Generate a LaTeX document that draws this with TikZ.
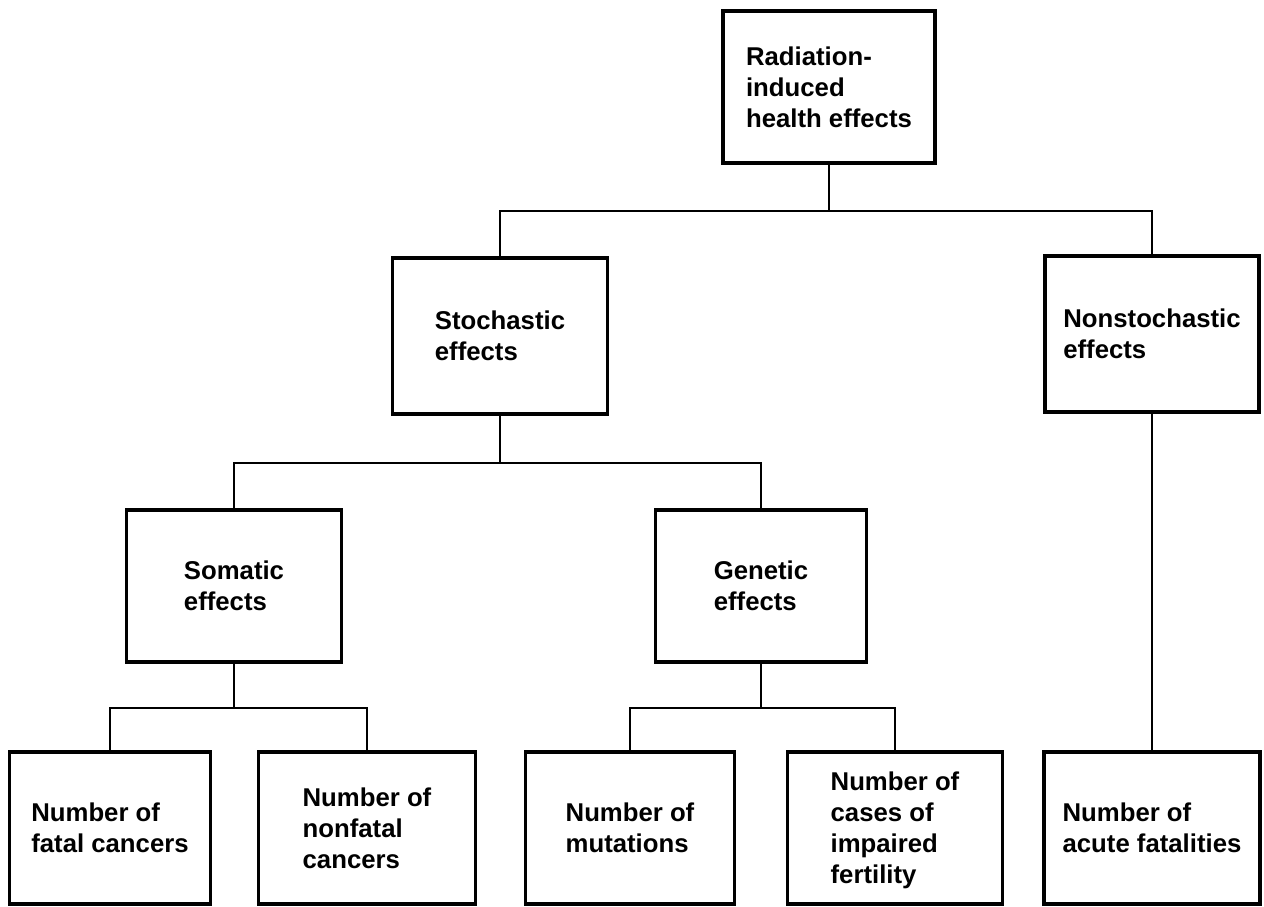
\documentclass[tikz,border=0pt]{standalone}
\usepackage{fontspec}
\setmainfont{Liberation Sans}
\usepackage{tikz}

\begin{document}
\begin{tikzpicture}
	[
		x=0.025cm, y=-0.025cm,
		box/.style = {rectangle, align=left, draw=black, line width=2.2pt, fill=none,
			inner sep=0pt, minimum height=3.8cm, text depth=0pt,
			font=\fontsize{18.3}{22}\selectfont\bfseries},
		link/.style = {draw=black, line width=1.8pt},
	]

	\useasboundingbox (0,0) rectangle (1264,907);

	% top and middle boxes
	\node[box, minimum width=5.3cm]   (root)     at (829, 87)  {Radiation-\\induced\\health effects};
	\node[box, minimum width=5.375cm, minimum height=3.9cm] (stoch)    at (500, 336) {Stochastic\\effects};
	\node[box, minimum width=5.35cm, minimum height=3.9cm]  (nonstoch) at (1152,334) {Nonstochastic\\effects};
	\node[box, minimum width=5.375cm] (somatic)  at (234, 586) {Somatic\\effects};
	\node[box, minimum width=5.275cm] (genetic)  at (761, 586) {Genetic\\effects};

	% bottom boxes
	\node[box, minimum width=5.025cm] (fatal)    at (110, 828) {Number of\\fatal cancers};
	\node[box, minimum width=5.425cm] (nonfatal) at (367, 828) {Number of\\nonfatal\\cancers};
	\node[box, minimum width=5.225cm] (mutation) at (630, 828) {Number of\\mutations};
	\node[box, minimum width=5.375cm] (fertile)  at (895, 828) {Number of\\cases of\\impaired\\fertility};
	\node[box, minimum width=5.4cm]   (acute)    at (1152,828) {Number of\\acute fatalities};

	% junctions
	\coordinate (j1) at (829, 211);
	\coordinate (j2) at (500, 463);
	\coordinate (j3) at (234, 708);
	\coordinate (j4) at (761, 708);

	\foreach \up/\j in {root/j1,stoch/j2,somatic/j3,genetic/j4}
	\draw[link] (\up.south) -- (\j);

	\foreach \left/\j/\right in {stoch/j1/nonstoch,somatic/j2/genetic,fatal/j3/nonfatal,mutation/j4/fertile}
	\draw[link] (\left.north) |- (\j) -| (\right.north);

	\draw[link] (nonstoch.south) -- (acute.north);

\end{tikzpicture}
\end{document}
